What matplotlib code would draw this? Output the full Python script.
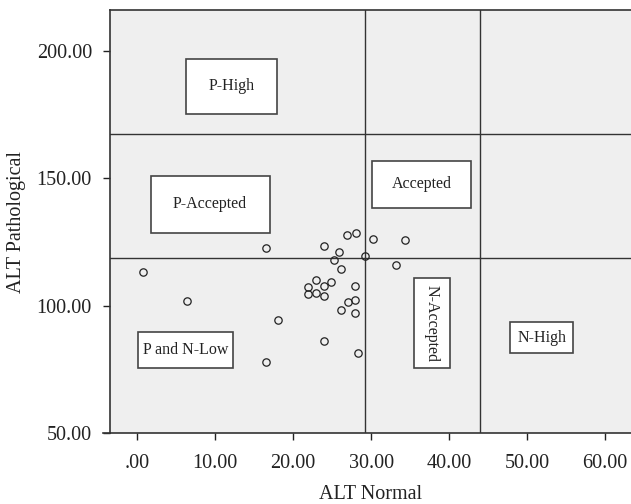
import matplotlib
matplotlib.use("Agg")
import matplotlib.pyplot as plt
from matplotlib.patches import Rectangle

plt.rcParams["font.family"] = ["Liberation Serif", "DejaVu Serif"]

# ALT values
alt_normal = [0.8, 6.4, 16.5, 16.5, 18.1, 21.9, 21.9, 22.9, 22.9, 23.9,
              23.9, 23.9, 23.9, 24.9, 25.3, 25.9, 26.2, 26.1, 26.9, 27.0,
              27.9, 27.9, 27.9, 28.1, 28.3, 29.2, 30.3, 33.2, 34.3]
alt_patho = [113.2, 101.7, 122.6, 78.0, 94.4, 107.1, 104.7, 110.0, 105.0, 123.5,
             107.8, 103.9, 86.0, 109.2, 118.0, 121.0, 114.3, 98.3, 127.7, 101.3,
             107.8, 102.1, 96.9, 128.4, 81.3, 119.4, 126.1, 115.9, 125.9]

# reference limits
normal_cuts = [29.2, 43.9]
patho_cuts = [118.8, 167.5]

xticks = [0, 10, 20, 30, 40, 50, 60]
xtick_labels = [".00", "10.00", "20.00", "30.00", "40.00", "50.00", "60.00"]
yticks = [50, 100, 150, 200]
ytick_labels = ["50.00", "100.00", "150.00", "200.00"]

# region boxes: label, (x0, x1, y0, y1), rotation
regions = [
    ("P-High", (6.3, 17.9, 175.2, 196.9), 0),
    ("P-Accepted", (1.75, 17.0, 128.4, 151.0), 0),
    ("Accepted", (30.1, 42.8, 138.3, 156.8), 0),
    ("P and N-Low", (0.1, 12.3, 75.4, 89.7), 0),
    ("N-Accepted", (35.5, 40.1, 75.4, 110.9), -90),
    ("N-High", (47.8, 55.9, 81.3, 93.5), 0),
]

fig = plt.figure(figsize=(6.31, 5.04), dpi=100)
ax = fig.add_axes([0.1743, 0.141, 0.8257, 0.839])
ax.set_facecolor("#efefef")

for xc in normal_cuts:
    ax.axvline(xc, color="#333333", lw=1.0, zorder=1)
for yc in patho_cuts:
    ax.axhline(yc, color="#333333", lw=1.0, zorder=1)

for label, (x0, x1, y0, y1), rot in regions:
    ax.add_patch(Rectangle((x0, y0), x1 - x0, y1 - y0, facecolor="white",
                           edgecolor="#444444", lw=1.2, zorder=2))
    ax.text((x0 + x1) / 2, (y0 + y1) / 2, label, ha="center", va="center",
            rotation=rot, fontsize=11.5, color="#222222", zorder=3)

ax.plot(alt_normal, alt_patho, "o", mfc="none", mec="#222222", ms=5.3,
        mew=0.9, zorder=4)

ax.set_xlim(-3.46, 63.3)
ax.set_ylim(50, 216)
ax.set_xticks(xticks)
ax.set_xticklabels(xtick_labels)
ax.set_yticks(yticks)
ax.set_yticklabels(ytick_labels)
ax.tick_params(labelsize=14.5, colors="#222222", length=5, width=1.0)
ax.tick_params(axis="x", pad=10)
ax.tick_params(axis="y", pad=8)
ax.set_xlabel("ALT Normal", fontsize=14.5, color="#222222", labelpad=9)
ax.set_ylabel("ALT Pathological", fontsize=14.5, color="#222222", labelpad=8)

for side in ["left", "bottom", "top"]:
    ax.spines[side].set_color("#333333")
    ax.spines[side].set_linewidth(1.2)
ax.spines["right"].set_visible(False)

# short stubs where the axis lines run past the corner
ax.plot([-4.4, -3.46], [50, 50], color="#333333", lw=1.2, clip_on=False)

fig.savefig("out.png", dpi=100, facecolor="white")
